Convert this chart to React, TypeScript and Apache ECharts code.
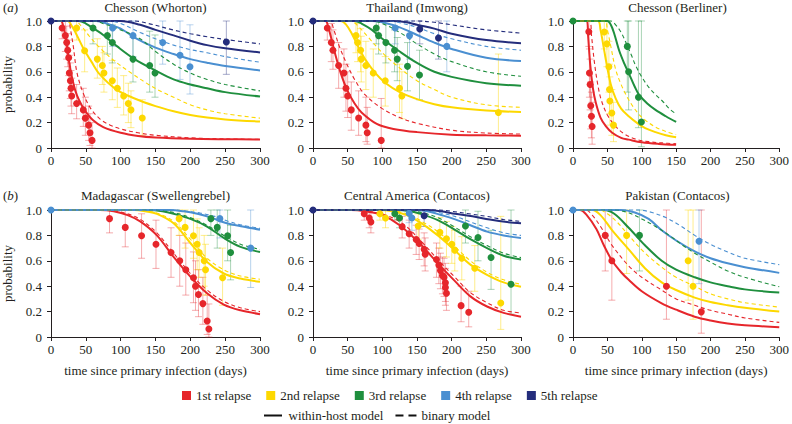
import React, { useEffect, useRef } from "react";
import * as echarts from "echarts";

// ---------- data ----------
const RELAPSES = ["1st relapse", "2nd relapse", "3rd relapse", "4th relapse", "5th relapse"];
const COLORS = ["#e6262b", "#fdd800", "#1f8f3e", "#4a8fd1", "#242d7c"];
const BAR_COLORS = [
  "rgba(230,38,43,0.38)",
  "rgba(253,216,0,0.45)",
  "rgba(31,143,62,0.38)",
  "rgba(74,143,209,0.4)",
  "rgba(36,45,124,0.4)",
];
const PANEL_TITLES = [
  "Chesson (Whorton)",
  "Thailand (Imwong)",
  "Chesson (Berliner)",
  "Madagascar (Swellengrebel)",
  "Central America (Contacos)",
  "Pakistan (Contacos)",
];
const X_AXIS_NAME = "time since primary infection (days)";
const Y_AXIS_NAME = "probability";
const MODEL_NAMES = ["within-host model", "binary model"];

// points: [day, probability, lower, upper]
const WHORTON_POINTS = [
  [[16, 0.945, 0.86, 1], [20.6, 0.885, 0.76, 1], [22.5, 0.83, 0.7, 0.96], [24, 0.77, 0.64, 0.9], [25.4, 0.71, 0.57, 0.85], [26.3, 0.59, 0.45, 0.73], [27.8, 0.53, 0.39, 0.67], [28.7, 0.47, 0.33, 0.61], [29.7, 0.41, 0.27, 0.55], [36.8, 0.35, 0.23, 0.5], [46.4, 0.3, 0.17, 0.47], [49.3, 0.235, 0.1, 0.4], [54, 0.18, 0.06, 0.33], [56, 0.12, 0.02, 0.27], [58.9, 0.06, 0, 0.2]],
  [[36.8, 0.945, 0.85, 1], [48.3, 0.766, 0.6, 0.93], [66.5, 0.7, 0.55, 0.86], [73.7, 0.65, 0.5, 0.8], [76, 0.59, 0.44, 0.75], [88, 0.53, 0.38, 0.69], [95.2, 0.47, 0.32, 0.63], [104.3, 0.41, 0.26, 0.57], [111, 0.35, 0.2, 0.51], [114.8, 0.3, 0.16, 0.45], [131, 0.236, 0.1, 0.38]],
  [[60.3, 0.945, 0.82, 1], [80.9, 0.885, 0.74, 1], [88, 0.83, 0.67, 0.97], [117.7, 0.7, 0.52, 0.87], [141.6, 0.65, 0.44, 0.92], [149.3, 0.59, 0.4, 0.89]],
  [[88.5, 0.945, 0.8, 1], [117.7, 0.885, 0.72, 1], [160.3, 0.83, 0.66, 1], [185.2, 0.73, 0.54, 1], [199.5, 0.64, 0.425, 0.97]],
  [[0, 1, 1, 1], [251.7, 0.835, 0.58, 1]],
];
const WHORTON_SOLID = [
  [[0, 1], [14, 1], [18, 0.95], [22, 0.84], [26, 0.68], [30, 0.56], [35, 0.45], [40, 0.38], [48, 0.3], [60, 0.22], [75, 0.165], [100, 0.12], [125, 0.095], [150, 0.083], [200, 0.073], [250, 0.069], [300, 0.067]],
  [[0, 1], [24, 1], [30, 0.96], [36, 0.9], [46, 0.79], [58, 0.68], [70, 0.58], [94, 0.46], [120, 0.39], [150, 0.33], [176, 0.29], [200, 0.26], [224, 0.24], [250, 0.225], [300, 0.208]],
  [[0, 1], [40, 1], [50, 0.98], [60, 0.945], [75, 0.89], [95, 0.8], [120, 0.7], [150, 0.61], [176, 0.54], [200, 0.5], [224, 0.47], [250, 0.44], [300, 0.405]],
  [[0, 1], [65, 1], [80, 0.98], [100, 0.94], [120, 0.87], [150, 0.79], [176, 0.74], [200, 0.7], [225, 0.67], [250, 0.645], [300, 0.61]],
  [[0, 1], [100, 1], [128, 0.97], [150, 0.93], [176, 0.887], [200, 0.845], [224, 0.81], [250, 0.785], [300, 0.752]],
];
const WHORTON_DASHED = [
  [[0, 1], [24, 1], [28, 0.93], [32, 0.8], [37, 0.6], [45, 0.45], [56, 0.32], [70, 0.23], [85, 0.18], [100, 0.15], [125, 0.12], [150, 0.1], [200, 0.08], [250, 0.072], [300, 0.068]],
  [[0, 1], [34, 1], [45, 0.95], [55, 0.88], [70, 0.79], [90, 0.69], [118, 0.58], [140, 0.5], [160, 0.44], [176, 0.4], [200, 0.34], [224, 0.3], [250, 0.27], [300, 0.235]],
  [[0, 1], [60, 1], [80, 0.97], [100, 0.93], [128, 0.86], [150, 0.76], [176, 0.66], [200, 0.59], [224, 0.54], [250, 0.5], [300, 0.45]],
  [[0, 1], [85, 1], [100, 0.98], [128, 0.91], [150, 0.86], [176, 0.81], [200, 0.775], [224, 0.75], [250, 0.72], [300, 0.675]],
  [[0, 1], [120, 1], [140, 0.98], [175, 0.93], [200, 0.9], [225, 0.875], [250, 0.855], [300, 0.82]],
];

const IMWONG_POINTS = [
  [[20.6, 0.945, 0.85, 1], [26.4, 0.83, 0.68, 0.98], [28.8, 0.77, 0.62, 0.93], [37, 0.65, 0.47, 0.83], [44.6, 0.59, 0.4, 0.78], [47.5, 0.47, 0.29, 0.66], [50, 0.41, 0.24, 0.6], [55.2, 0.3, 0.14, 0.52], [65.8, 0.236, 0.1, 0.45], [76.3, 0.18, 0.05, 0.4], [78.2, 0.12, 0.03, 0.32], [98.4, 0.06, 0, 0.39]],
  [[62, 0.885, 0.75, 1], [64.3, 0.83, 0.68, 0.98], [68.6, 0.77, 0.6, 0.94], [69.6, 0.7, 0.52, 0.88], [76.3, 0.65, 0.46, 0.84], [86.9, 0.59, 0.4, 0.78], [104.2, 0.53, 0.33, 0.72], [124.8, 0.47, 0.28, 0.66], [128.2, 0.41, 0.23, 0.6], [267.4, 0.28, 0.1, 0.74]],
  [[91.2, 0.945, 0.82, 1], [94.6, 0.885, 0.74, 1], [105.1, 0.83, 0.67, 0.98], [117.6, 0.77, 0.6, 0.93], [121.5, 0.7, 0.53, 0.87], [136.3, 0.643, 0.45, 0.83], [153.6, 0.575, 0.38, 0.77]],
  [[118.6, 0.945, 0.82, 1], [139.2, 0.885, 0.7, 1], [193, 0.8, 0.6, 1]],
  [[0, 1, 1, 1], [154, 0.937, 0.82, 1], [181, 0.866, 0.7, 1]],
];
const IMWONG_SOLID = [
  [[0, 1], [18, 1], [22, 0.95], [27, 0.85], [32, 0.74], [40, 0.59], [49, 0.46], [60, 0.35], [70, 0.28], [92, 0.19], [116, 0.15], [150, 0.125], [200, 0.105], [250, 0.1], [300, 0.097]],
  [[0, 1], [40, 1], [48, 0.97], [56, 0.9], [65, 0.8], [75, 0.7], [90, 0.59], [105, 0.51], [125, 0.44], [150, 0.385], [175, 0.345], [200, 0.32], [250, 0.295], [300, 0.283]],
  [[0, 1], [60, 1], [70, 0.98], [85, 0.93], [100, 0.86], [125, 0.76], [150, 0.67], [175, 0.6], [200, 0.56], [250, 0.51], [300, 0.49]],
  [[0, 1], [85, 1], [100, 0.99], [125, 0.95], [150, 0.89], [175, 0.83], [200, 0.78], [250, 0.71], [300, 0.685]],
  [[0, 1], [115, 1], [135, 0.99], [150, 0.97], [175, 0.94], [200, 0.9], [250, 0.85], [300, 0.825]],
];
const IMWONG_DASHED = [
  [[0, 1], [24, 1], [30, 0.93], [38, 0.8], [48, 0.67], [60, 0.54], [75, 0.42], [100, 0.31], [125, 0.24], [150, 0.195], [200, 0.14], [250, 0.118], [300, 0.11]],
  [[0, 1], [55, 1], [65, 0.96], [80, 0.87], [100, 0.75], [125, 0.63], [150, 0.53], [175, 0.46], [200, 0.4], [250, 0.34], [300, 0.32]],
  [[0, 1], [85, 1], [100, 0.98], [125, 0.91], [150, 0.82], [175, 0.74], [200, 0.68], [250, 0.6], [300, 0.565]],
  [[0, 1], [110, 1], [130, 0.98], [150, 0.95], [175, 0.9], [200, 0.86], [250, 0.8], [300, 0.77]],
  [[0, 1], [150, 1], [175, 0.99], [200, 0.97], [250, 0.93], [300, 0.905]],
];

const BERLINER_POINTS = [
  [[23, 0.916, 0.8, 1], [23.9, 0.59, 0.4, 0.78], [24.9, 0.5, 0.3, 0.7], [25.8, 0.333, 0.15, 0.52], [26.8, 0.25, 0.08, 0.44], [27.8, 0.17, 0.03, 0.36]],
  [[45.5, 0.913, 0.78, 1], [49.3, 0.82, 0.64, 1], [52.2, 0.64, 0.44, 0.84], [53.1, 0.46, 0.27, 0.66], [53.6, 0.37, 0.18, 0.56], [56.5, 0.275, 0.1, 0.46], [58.9, 0.18, 0.05, 0.36]],
  [[0, 1, 1, 1], [79, 0.8, 0.44, 1], [80.9, 0.6, 0.3, 1], [95.2, 0.4, 0.16, 1], [99.5, 0.205, 0.01, 1]],
];
const BERLINER_SOLID = [
  [[0, 1], [20, 1], [22, 0.88], [25, 0.66], [29, 0.47], [33, 0.36], [40, 0.24], [48, 0.17], [57, 0.12], [70, 0.08], [81, 0.066], [100, 0.045], [125, 0.032], [150, 0.025]],
  [[0, 1], [36, 1], [40, 0.93], [45, 0.78], [50, 0.63], [55, 0.5], [62, 0.39], [70, 0.31], [81, 0.25], [95, 0.19], [105, 0.157], [120, 0.125], [135, 0.1], [150, 0.084]],
  [[0, 1], [50, 1], [55, 0.97], [60, 0.9], [67, 0.77], [75, 0.66], [81, 0.59], [90, 0.48], [96, 0.42], [108, 0.35], [120, 0.3], [135, 0.25], [150, 0.205]],
];
const BERLINER_DASHED = [
  [[0, 1], [24, 1], [27, 0.88], [31, 0.68], [36, 0.5], [41, 0.38], [50, 0.26], [62, 0.17], [75, 0.11], [91, 0.07], [110, 0.05], [130, 0.04], [150, 0.033]],
  [[0, 1], [46, 1], [50, 0.93], [55, 0.8], [62, 0.62], [70, 0.5], [81, 0.38], [95, 0.27], [105, 0.22], [120, 0.165], [135, 0.13], [150, 0.105]],
  [[0, 1], [55, 1], [62, 0.97], [70, 0.91], [77, 0.83], [85, 0.73], [91, 0.65], [100, 0.56], [110, 0.48], [120, 0.42], [130, 0.37], [140, 0.31], [150, 0.268]],
];

const SWELLENGREBEL_POINTS = [
  [[84, 0.932, 0.82, 1], [106.6, 0.863, 0.71, 1], [130, 0.797, 0.62, 0.97], [150.7, 0.73, 0.54, 0.92], [172.3, 0.666, 0.47, 0.86], [184.8, 0.6, 0.4, 0.8], [193.5, 0.53, 0.33, 0.74], [204.5, 0.466, 0.27, 0.67], [207.4, 0.4, 0.21, 0.6], [211.7, 0.334, 0.16, 0.53], [218, 0.263, 0.1, 0.47], [224.2, 0.126, 0.02, 0.33], [226.6, 0.063, 0, 0.26]],
  [[183.9, 0.932, 0.8, 1], [192.5, 0.863, 0.7, 1], [204.5, 0.797, 0.62, 1], [209.8, 0.73, 0.53, 0.93], [212.7, 0.666, 0.47, 0.86], [219.9, 0.6, 0.4, 0.8], [221.8, 0.53, 0.33, 0.73], [246.3, 0.466, 0.25, 0.7]],
  [[229.5, 0.932, 0.8, 1], [238.6, 0.863, 0.7, 1], [253.5, 0.797, 0.6, 1], [257.8, 0.666, 0.45, 0.88]],
  [[0, 1, 1, 1], [242.4, 0.932, 0.78, 1], [286.6, 0.7, 0.39, 1]],
];
const SWELLENGREBEL_SOLID = [
  [[0, 1], [70, 1], [90, 0.99], [110, 0.96], [128, 0.91], [152, 0.8], [176, 0.63], [200, 0.475], [224, 0.344], [248, 0.255], [272, 0.21], [300, 0.18]],
  [[0, 1], [120, 1], [135, 0.99], [152, 0.97], [176, 0.895], [200, 0.74], [224, 0.59], [248, 0.5], [272, 0.46], [300, 0.435]],
  [[0, 1], [140, 1], [160, 0.99], [176, 0.97], [200, 0.93], [224, 0.87], [248, 0.78], [272, 0.71], [300, 0.67]],
  [[0, 1], [170, 1], [190, 0.99], [210, 0.97], [230, 0.94], [250, 0.9], [275, 0.87], [300, 0.845]],
];
const SWELLENGREBEL_DASHED = [
  [[0, 1], [75, 1], [95, 0.99], [115, 0.96], [130, 0.92], [152, 0.82], [176, 0.66], [200, 0.5], [224, 0.37], [248, 0.28], [272, 0.23], [300, 0.2]],
  [[0, 1], [125, 1], [140, 0.99], [155, 0.97], [176, 0.91], [200, 0.77], [224, 0.62], [248, 0.53], [272, 0.48], [300, 0.455]],
  [[0, 1], [145, 1], [165, 0.99], [180, 0.975], [200, 0.94], [224, 0.88], [248, 0.8], [272, 0.73], [300, 0.69]],
  [[0, 1], [175, 1], [195, 0.99], [215, 0.975], [235, 0.95], [255, 0.91], [275, 0.88], [300, 0.855]],
];

const CONTACOS_CA_POINTS = [
  [[73.9, 0.97, 0.92, 1], [81.1, 0.937, 0.86, 1], [83.5, 0.905, 0.82, 0.98], [128.6, 0.868, 0.78, 0.95], [138.7, 0.813, 0.7, 0.92], [148.8, 0.768, 0.65, 0.88], [153.1, 0.737, 0.61, 0.85], [160.3, 0.69, 0.56, 0.82], [161.8, 0.652, 0.52, 0.78], [178.1, 0.61, 0.47, 0.74], [181.5, 0.566, 0.42, 0.7], [183.8, 0.524, 0.38, 0.66], [186.7, 0.484, 0.34, 0.63], [189, 0.47, 0.32, 0.62], [191, 0.427, 0.28, 0.58], [191, 0.39, 0.25, 0.54], [192.5, 0.345, 0.21, 0.49], [213.6, 0.247, 0.12, 0.4], [224.6, 0.195, 0.08, 0.36]],
  [[96.5, 0.97, 0.92, 1], [104.6, 0.937, 0.86, 1], [151.7, 0.874, 0.77, 0.97], [183, 0.824, 0.7, 0.94], [192.5, 0.774, 0.63, 0.91], [200.2, 0.73, 0.58, 0.87], [204.5, 0.684, 0.52, 0.84], [214.6, 0.62, 0.45, 0.79], [233.3, 0.542, 0.36, 0.72], [270.8, 0.268, 0.06, 0.95]],
  [[118, 0.97, 0.92, 1], [124.8, 0.937, 0.86, 1], [219.9, 0.874, 0.74, 1], [238, 0.784, 0.6, 0.99], [256.8, 0.626, 0.375, 0.84], [285.6, 0.416, 0.18, 1]],
  [[138.7, 0.974, 0.9, 1], [142.6, 0.937, 0.84, 1]],
  [[0, 1, 1, 1], [160.3, 0.955, 0.87, 1]],
];
const CONTACOS_CA_SOLID = [
  [[0, 1], [55, 1], [75, 0.99], [100, 0.96], [125, 0.88], [155, 0.73], [180, 0.58], [203, 0.45], [227, 0.32], [251, 0.24], [275, 0.19], [300, 0.16]],
  [[0, 1], [95, 1], [115, 0.99], [135, 0.96], [155, 0.9], [180, 0.8], [203, 0.69], [227, 0.57], [251, 0.49], [275, 0.43], [300, 0.395]],
  [[0, 1], [120, 1], [140, 0.99], [155, 0.97], [180, 0.92], [203, 0.85], [227, 0.77], [251, 0.7], [275, 0.64], [300, 0.61]],
  [[0, 1], [145, 1], [165, 0.99], [185, 0.96], [203, 0.93], [227, 0.88], [251, 0.83], [275, 0.8], [300, 0.78]],
  [[0, 1], [165, 1], [185, 0.99], [205, 0.97], [230, 0.95], [255, 0.925], [280, 0.905], [300, 0.895]],
];
const CONTACOS_CA_DASHED = [
  [[0, 1], [60, 1], [80, 0.99], [105, 0.96], [130, 0.89], [155, 0.76], [180, 0.61], [203, 0.48], [227, 0.35], [251, 0.27], [275, 0.21], [300, 0.19]],
  [[0, 1], [100, 1], [120, 0.99], [140, 0.96], [160, 0.9], [180, 0.83], [203, 0.72], [227, 0.6], [251, 0.51], [275, 0.45], [300, 0.415]],
  [[0, 1], [125, 1], [145, 0.99], [160, 0.975], [180, 0.94], [203, 0.87], [227, 0.79], [251, 0.72], [275, 0.66], [300, 0.625]],
  [[0, 1], [150, 1], [170, 0.99], [190, 0.97], [210, 0.94], [230, 0.9], [251, 0.86], [275, 0.82], [300, 0.8]],
  [[0, 1], [180, 1], [200, 0.99], [225, 0.97], [250, 0.95], [275, 0.925], [300, 0.91]],
];

const CONTACOS_PK_POINTS = [
  [[46.9, 0.8, 0.52, 1], [56.5, 0.6, 0.29, 1], [135.9, 0.4, 0.14, 1], [186.6, 0.198, 0.03, 1]],
  [[78, 0.8, 0.5, 1], [167.5, 0.6, 0.29, 1], [174.6, 0.4, 0.14, 1]],
  [[96.7, 0.8, 0.52, 1]],
  [[0, 1, 1, 1], [183.3, 0.754, 0.42, 1]],
];
const CONTACOS_PK_SOLID = [
  [[0, 1], [10, 1], [20, 0.96], [34, 0.85], [45, 0.72], [57, 0.6], [70, 0.51], [81, 0.45], [100, 0.36], [129, 0.265], [150, 0.215], [177, 0.16], [200, 0.13], [225, 0.106], [250, 0.092], [300, 0.077]],
  [[0, 1], [28, 1], [40, 0.96], [57, 0.84], [81, 0.69], [105, 0.54], [129, 0.43], [150, 0.37], [177, 0.31], [200, 0.275], [225, 0.25], [250, 0.23], [300, 0.2]],
  [[0, 1], [45, 1], [60, 0.97], [81, 0.86], [105, 0.72], [129, 0.6], [150, 0.53], [177, 0.47], [200, 0.43], [225, 0.4], [250, 0.375], [300, 0.35]],
  [[0, 1], [70, 1], [90, 0.98], [110, 0.93], [129, 0.84], [150, 0.76], [177, 0.675], [200, 0.62], [225, 0.58], [250, 0.55], [300, 0.505]],
];
const CONTACOS_PK_DASHED = [
  [[0, 1], [18, 1], [28, 0.96], [40, 0.87], [57, 0.72], [81, 0.56], [100, 0.47], [129, 0.37], [150, 0.3], [177, 0.25], [200, 0.21], [225, 0.18], [250, 0.15], [300, 0.115]],
  [[0, 1], [38, 1], [50, 0.97], [65, 0.9], [81, 0.8], [105, 0.66], [129, 0.55], [150, 0.47], [177, 0.4], [200, 0.34], [225, 0.3], [250, 0.27], [300, 0.235]],
  [[0, 1], [60, 1], [80, 0.98], [100, 0.93], [120, 0.87], [140, 0.8], [160, 0.72], [177, 0.66], [200, 0.59], [225, 0.52], [250, 0.47], [300, 0.395]],
  [[0, 1], [95, 1], [115, 0.98], [135, 0.94], [155, 0.88], [177, 0.8], [200, 0.73], [225, 0.67], [250, 0.62], [300, 0.57]],
];

const PANELS = [
  { points: WHORTON_POINTS, solid: WHORTON_SOLID, dashed: WHORTON_DASHED },
  { points: IMWONG_POINTS, solid: IMWONG_SOLID, dashed: IMWONG_DASHED },
  { points: BERLINER_POINTS, solid: BERLINER_SOLID, dashed: BERLINER_DASHED },
  { points: SWELLENGREBEL_POINTS, solid: SWELLENGREBEL_SOLID, dashed: SWELLENGREBEL_DASHED },
  { points: CONTACOS_CA_POINTS, solid: CONTACOS_CA_SOLID, dashed: CONTACOS_CA_DASHED },
  { points: CONTACOS_PK_POINTS, solid: CONTACOS_PK_SOLID, dashed: CONTACOS_PK_DASHED },
];

// ---------- layout ----------
const GRIDS = [
  { left: 51, top: 21, width: 209, height: 127 },
  { left: 313, top: 21, width: 208, height: 127 },
  { left: 573, top: 21, width: 209, height: 127 },
  { left: 51, top: 210, width: 209, height: 127 },
  { left: 313, top: 210, width: 208, height: 127 },
  { left: 573, top: 210, width: 209, height: 127 },
];
const FONT = "'Liberation Serif', 'Times New Roman', serif";
const TEXT_COLOR = "#231f20";

function errorBarRenderer(color: string) {
  return (params: any, api: any) => {
    const x = api.value(0);
    const lo = api.value(2);
    const hi = api.value(3);
    if (!(hi > lo)) return { type: "group", children: [] };
    const top = api.coord([x, hi]);
    const bot = api.coord([x, lo]);
    const w = 3.5;
    const style = { stroke: color, lineWidth: 1 };
    return {
      type: "group",
      children: [
        { type: "line", shape: { x1: top[0], y1: top[1], x2: bot[0], y2: bot[1] }, style },
        { type: "line", shape: { x1: top[0] - w, y1: top[1], x2: top[0] + w, y2: top[1] }, style },
        { type: "line", shape: { x1: bot[0] - w, y1: bot[1], x2: bot[0] + w, y2: bot[1] }, style },
      ],
    };
  };
}

function buildOption() {
  const grid = GRIDS.map((g) => ({ ...g, containLabel: false }));
  const xAxis = GRIDS.map((_, i) => ({
    type: "value",
    gridIndex: i,
    min: 0,
    max: 300,
    interval: 50,
    name: i >= 3 ? X_AXIS_NAME : "",
    nameLocation: "middle",
    nameGap: 27,
    nameTextStyle: { fontFamily: FONT, fontSize: 13, color: TEXT_COLOR },
    axisLine: { show: true, onZero: false, lineStyle: { color: "#231f20", width: 1 } },
    axisTick: { show: true, inside: false, length: 4, lineStyle: { color: "#231f20" } },
    axisLabel: { fontFamily: FONT, fontSize: 13, color: TEXT_COLOR, margin: 6 },
    splitLine: { show: false },
  }));
  const yAxis = GRIDS.map((_, i) => ({
    type: "value",
    gridIndex: i,
    min: 0,
    max: 1,
    interval: 0.2,
    name: i === 0 || i === 3 ? Y_AXIS_NAME : "",
    nameLocation: "middle",
    nameGap: 37,
    nameTextStyle: { fontFamily: FONT, fontSize: 13, color: TEXT_COLOR },
    axisLine: { show: true, onZero: false, lineStyle: { color: "#231f20", width: 1 } },
    axisTick: { show: true, inside: false, length: 4, lineStyle: { color: "#231f20" } },
    axisLabel: {
      fontFamily: FONT,
      fontSize: 13,
      color: TEXT_COLOR,
      margin: 9,
      formatter: (v: number) => (v === 0 ? "0" : v.toFixed(1)),
    },
    splitLine: { show: false },
  }));

  const series: any[] = [];
  PANELS.forEach((panel, p) => {
    panel.points.forEach((pts, r) => {
      series.push({
        type: "custom",
        xAxisIndex: p,
        yAxisIndex: p,
        renderItem: errorBarRenderer(BAR_COLORS[r]),
        data: pts,
        encode: { x: 0, y: [2, 3] },
        z: 1,
        silent: true,
        clip: false,
      });
    });
    panel.solid.forEach((curve, r) => {
      series.push({
        type: "line",
        xAxisIndex: p,
        yAxisIndex: p,
        data: curve,
        smooth: 0.35,
        showSymbol: false,
        symbol: "none",
        clip: false,
        z: 2,
        silent: true,
        itemStyle: { color: COLORS[r] },
        lineStyle: { color: COLORS[r], width: 2 },
      });
    });
    panel.dashed.forEach((curve, r) => {
      series.push({
        type: "line",
        xAxisIndex: p,
        yAxisIndex: p,
        data: curve,
        smooth: 0.35,
        showSymbol: false,
        symbol: "none",
        clip: false,
        z: 2,
        silent: true,
        itemStyle: { color: COLORS[r] },
        lineStyle: { color: COLORS[r], width: 1.1, type: [4, 3] },
      });
    });
    panel.points.forEach((pts, r) => {
      series.push({
        type: "scatter",
        name: RELAPSES[r],
        xAxisIndex: p,
        yAxisIndex: p,
        data: pts.map((d) => [d[0], d[1]]),
        symbolSize: 7,
        clip: false,
        z: 3,
        itemStyle: { color: COLORS[r], opacity: 1 },
      });
    });
  });
  MODEL_NAMES.forEach((n, i) => {
    series.push({
      type: "line",
      name: n,
      xAxisIndex: 0,
      yAxisIndex: 0,
      data: [],
      itemStyle: { color: "#111" },
      lineStyle: { color: "#111", type: i === 0 ? "solid" : "dashed" },
    });
  });

  const titleStyle = { fontFamily: FONT, fontSize: 13, fontWeight: "normal", color: TEXT_COLOR };
  const title: any[] = PANEL_TITLES.map((t, i) => ({
    text: t,
    left: GRIDS[i].left + GRIDS[i].width / 2,
    top: i < 3 ? 1 : 189,
    textAlign: "center",
    padding: 0,
    textStyle: titleStyle,
  }));
  ["a", "b"].forEach((letter, i) => {
    title.push({
      text: "{p|(}{i|" + letter + "}{p|)}",
      left: 3,
      top: i === 0 ? 1 : 189,
      padding: 0,
      textStyle: {
        ...titleStyle,
        rich: {
          p: { fontFamily: FONT, fontSize: 13, color: TEXT_COLOR },
          i: { fontFamily: FONT, fontSize: 13, color: TEXT_COLOR, fontStyle: "italic" },
        },
      },
    });
  });

  const legendText = { fontFamily: FONT, fontSize: 13, color: TEXT_COLOR };
  const legend = [
    {
      data: RELAPSES.map((n, r) => ({ name: n, icon: "rect", itemStyle: { color: COLORS[r] } })),
      left: 182,
      top: 389,
      itemWidth: 9,
      itemHeight: 9,
      itemGap: 15,
      padding: 0,
      selectedMode: false,
      textStyle: legendText,
    },
    {
      data: [
        { name: MODEL_NAMES[0], icon: "path://M0,0h18v2h-18z", itemStyle: { color: "#111", borderWidth: 0 } },
        { name: MODEL_NAMES[1], icon: "path://M0,0h8v2h-8z M13,0h8v2h-8z", itemStyle: { color: "#111", borderWidth: 0 } },
      ],
      left: 264,
      top: 409,
      itemWidth: 21,
      itemHeight: 2,
      itemGap: 12,
      padding: 0,
      selectedMode: false,
      textStyle: legendText,
    },
  ];

  return {
    animation: false,
    backgroundColor: "#ffffff",
    textStyle: { fontFamily: FONT },
    title,
    legend,
    grid,
    xAxis,
    yAxis,
    series,
  };
}

export default function App() {
  const ref = useRef<HTMLDivElement>(null);
  useEffect(() => {
    if (!ref.current) return;
    const chart = echarts.init(ref.current, undefined, { renderer: "svg" });
    chart.setOption(buildOption() as any);
    return () => chart.dispose();
  }, []);
  return (
    <div
      ref={ref}
      style={{ position: "fixed", left: 0, top: 0, width: 792, height: 424, background: "#fff" }}
    />
  );
}
